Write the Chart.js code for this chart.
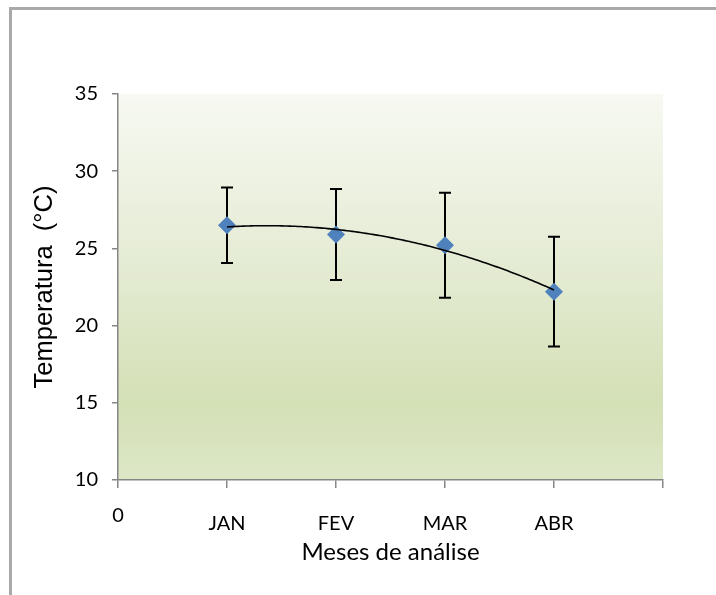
<!DOCTYPE html>
<html>
<head>
<meta charset="utf-8">
<script src="https://cdn.jsdelivr.net/npm/chart.js@4.4.1/dist/chart.umd.min.js"></script>
<style>
  html, body { margin: 0; padding: 0; background: #ffffff; }
  #wrap { position: relative; width: 716px; height: 595px; overflow: hidden; }
  #frame { position: absolute; left: 9px; top: 7px; right: -10px; bottom: -10px;
           border-left: 3px solid #a9a9a9; border-top: 3px solid #a9a9a9; }
  canvas { position: absolute; left: 0; top: 0; }
</style>
</head>
<body>
<div id="wrap">
  <div id="frame"></div>
  <canvas id="chart" width="716" height="595"></canvas>
</div>
<script>
// Monthly mean temperature with standard deviation
const months = ['JAN', 'FEV', 'MAR', 'ABR'];
const monthPositions = [1, 2, 3, 4];
const xTickLabels = ['0', 'JAN', 'FEV', 'MAR', 'ABR', ''];
const meanTemp = [26.5, 25.9, 25.2, 22.2];
const stdDev = [2.45, 2.95, 3.4, 3.55];

const points = monthPositions.map((x, i) => ({ x: x, y: meanTemp[i] }));

// Second-order polynomial least-squares fit of the means
function quadFit(xs, ys) {
  const n = xs.length;
  let s = [0, 0, 0, 0, 0], t = [0, 0, 0];
  for (let i = 0; i < n; i++) {
    const x = xs[i], y = ys[i];
    for (let k = 0; k <= 4; k++) s[k] += Math.pow(x, k);
    for (let k = 0; k <= 2; k++) t[k] += Math.pow(x, k) * y;
  }
  const A = [[s[0], s[1], s[2], t[0]], [s[1], s[2], s[3], t[1]], [s[2], s[3], s[4], t[2]]];
  for (let c = 0; c < 3; c++) {
    for (let r = c + 1; r < 3; r++) {
      const f = A[r][c] / A[c][c];
      for (let k = c; k < 4; k++) A[r][k] -= f * A[c][k];
    }
  }
  const coef = [0, 0, 0];
  for (let r = 2; r >= 0; r--) {
    let v = A[r][3];
    for (let k = r + 1; k < 3; k++) v -= A[r][k] * coef[k];
    coef[r] = v / A[r][r];
  }
  return coef;
}
const trend = quadFit(monthPositions, meanTemp);

const plotBackground = {
  id: 'plotBackground',
  beforeDraw(chart) {
    const { ctx, chartArea: a } = chart;
    const g = ctx.createLinearGradient(0, a.top, 0, a.bottom);
    g.addColorStop(0, '#f7f9f2');
    g.addColorStop(0.45, '#e4ebd3');
    g.addColorStop(0.8, '#d4e0b6');
    g.addColorStop(1, '#dde7c7');
    ctx.save();
    ctx.fillStyle = g;
    ctx.fillRect(a.left, a.top, a.right - a.left, a.bottom - a.top);
    ctx.restore();
  }
};

const errorBars = {
  id: 'errorBars',
  beforeDatasetsDraw(chart) {
    const { ctx, scales: { x, y } } = chart;
    ctx.save();
    ctx.strokeStyle = '#000000';
    ctx.lineWidth = 2;
    monthPositions.forEach((m, i) => {
      const px = x.getPixelForValue(m);
      const top = y.getPixelForValue(meanTemp[i] + stdDev[i]);
      const bot = y.getPixelForValue(meanTemp[i] - stdDev[i]);
      ctx.beginPath();
      ctx.moveTo(px, top); ctx.lineTo(px, bot);
      ctx.moveTo(px - 6, top); ctx.lineTo(px + 6, top);
      ctx.moveTo(px - 6, bot); ctx.lineTo(px + 6, bot);
      ctx.stroke();
    });
    ctx.restore();
  }
};

const trendLine = {
  id: 'trendLine',
  afterDatasetsDraw(chart) {
    const { ctx, scales: { x, y } } = chart;
    const x0 = monthPositions[0], x1 = monthPositions[monthPositions.length - 1];
    ctx.save();
    ctx.strokeStyle = '#000000';
    ctx.lineWidth = 1.6;
    ctx.beginPath();
    const steps = 120;
    for (let k = 0; k <= steps; k++) {
      const xv = x0 + (x1 - x0) * k / steps;
      const yv = trend[0] + trend[1] * xv + trend[2] * xv * xv;
      const px = x.getPixelForValue(xv), py = y.getPixelForValue(yv);
      if (k === 0) ctx.moveTo(px, py); else ctx.lineTo(px, py);
    }
    ctx.stroke();
    ctx.restore();
  }
};

const axisColor = '#868686';
const labelFont = 'Lato, "Open Sans", sans-serif';

new Chart(document.getElementById('chart'), {
  type: 'scatter',
  data: {
    datasets: [{
      label: 'Temperatura',
      data: points,
      pointStyle: 'rectRot',
      pointRadius: 9,
      pointHoverRadius: 9,
      backgroundColor: '#4f81bd',
      borderColor: '#4f81bd',
      borderWidth: 0,
      showLine: false
    }]
  },
  options: {
    responsive: false,
    animation: false,
    events: [],
    layout: { padding: { top: 94, right: 53, left: 0, bottom: 0 } },
    plugins: { legend: { display: false }, tooltip: { enabled: false } },
    scales: {
      x: {
        type: 'linear',
        min: 0, max: 5,
        afterFit(s) { s.height = 115; },
        border: { display: true, color: axisColor, width: 1.5 },
        grid: { drawOnChartArea: false, drawTicks: true, tickLength: 8, color: axisColor, lineWidth: 1.5 },
        ticks: {
          stepSize: 1,
          color: '#000000',
          padding: 18,
          maxRotation: 0,
          autoSkip: false,
          font: (c) => ({ family: labelFont, size: 20, lineHeight: (c.tick && c.tick.value === 0) ? '20px' : '35px' }),
          callback: (v) => xTickLabels[v] !== undefined ? xTickLabels[v] : ''
        },
        title: {
          display: true,
          text: 'Meses de análise',
          color: '#000000',
          font: { family: labelFont, size: 24, lineHeight: 1.2 },
          padding: { top: 0, bottom: 28 }
        }
      },
      y: {
        min: 10, max: 35,
        afterFit(s) { s.width = 118; },
        border: { display: true, color: axisColor, width: 1.5 },
        grid: { drawOnChartArea: false, drawTicks: true, tickLength: 6, color: axisColor, lineWidth: 1.5 },
        ticks: {
          stepSize: 5,
          color: '#000000',
          padding: 14,
          font: { family: labelFont, size: 20 }
        },
        title: {
          display: true,
          text: 'Temperatura  (°C)',
          color: '#000000',
          font: { family: '"Liberation Sans", Arial, sans-serif', size: 25.5, lineHeight: 1.2 },
          padding: { top: 29.5, bottom: 0 }
        }
      }
    }
  },
  plugins: [plotBackground, errorBars, trendLine]
});
</script>
</body>
</html>
